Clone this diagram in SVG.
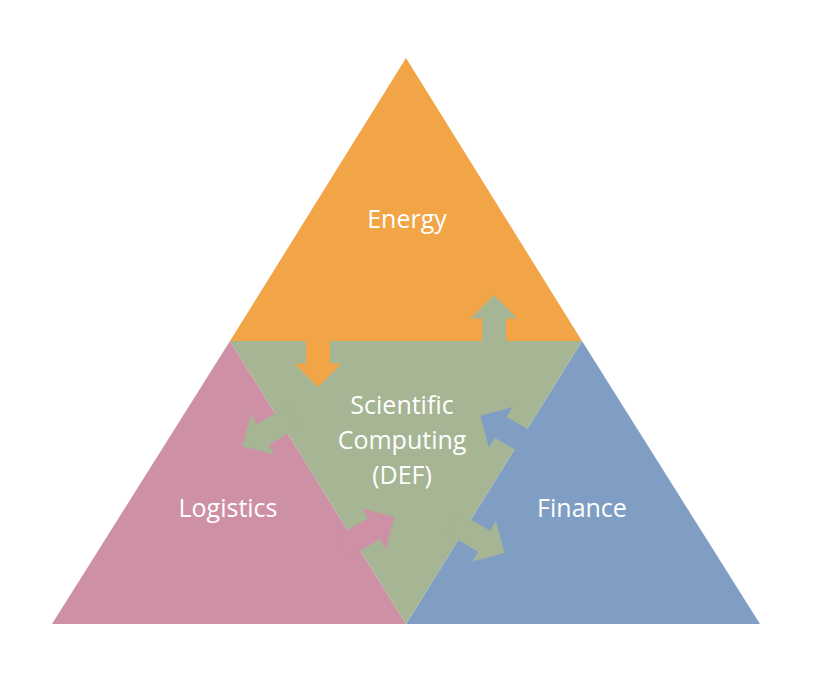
<svg xmlns="http://www.w3.org/2000/svg" xmlns:xlink="http://www.w3.org/1999/xlink" width="828" height="682" viewBox="0 0 828 682">
  <style>
    .lbl { font-family: "Open Sans", "Noto Sans", "DejaVu Sans", sans-serif; font-size: 25px; fill: #FFFFFF; text-anchor: middle; }
    .orange { fill: #F2A546; }
    .green { fill: #A6B593; }
    .pink { fill: #CE90A5; }
    .blue { fill: #809EC4; }
  </style>
  <defs>
    <path id="arrow" d="M -14,-12 L 22.5,-12 L 22.5,-23.5 L 46,0 L 22.5,23.5 L 22.5,12 L -14,12 Z"/>
  </defs>
  <rect width="828" height="682" fill="#FFFFFF"/>

  <g id="energy">
    <polygon class="orange" points="406,58 582,341 230,341"/>
    <text class="lbl" x="407" y="228">Energy</text>
  </g>
  <g id="logistics">
    <polygon class="pink" points="230,341 406,624 52,624"/>
    <text class="lbl" x="228" y="517">Logistics</text>
  </g>
  <g id="finance">
    <polygon class="blue" points="582,341 760,624 406,624"/>
    <text class="lbl" x="582" y="517">Finance</text>
  </g>
  <g id="scientific-computing">
    <polygon class="green" points="230,341 582,341 406,624"/>
  </g>

  <g id="connectors">
    <use xlink:href="#arrow" class="orange" transform="translate(318,341) rotate(90)"/>
    <use xlink:href="#arrow" class="green" transform="translate(494,341) rotate(-90)"/>
    <use xlink:href="#arrow" class="green" transform="translate(282.2,423.2) rotate(150)"/>
    <use xlink:href="#arrow" class="pink" transform="translate(354.5,540) rotate(-30)"/>
    <use xlink:href="#arrow" class="blue" transform="translate(520.2,438.7) rotate(210)"/>
    <use xlink:href="#arrow" class="green" transform="translate(464.7,530) rotate(30)"/>
  </g>

  <g id="scientific-computing-label">
    <text class="lbl" x="402" y="414">Scientific</text>
    <text class="lbl" x="402" y="449">Computing</text>
    <text class="lbl" x="402" y="484">(DEF)</text>
  </g>
</svg>
